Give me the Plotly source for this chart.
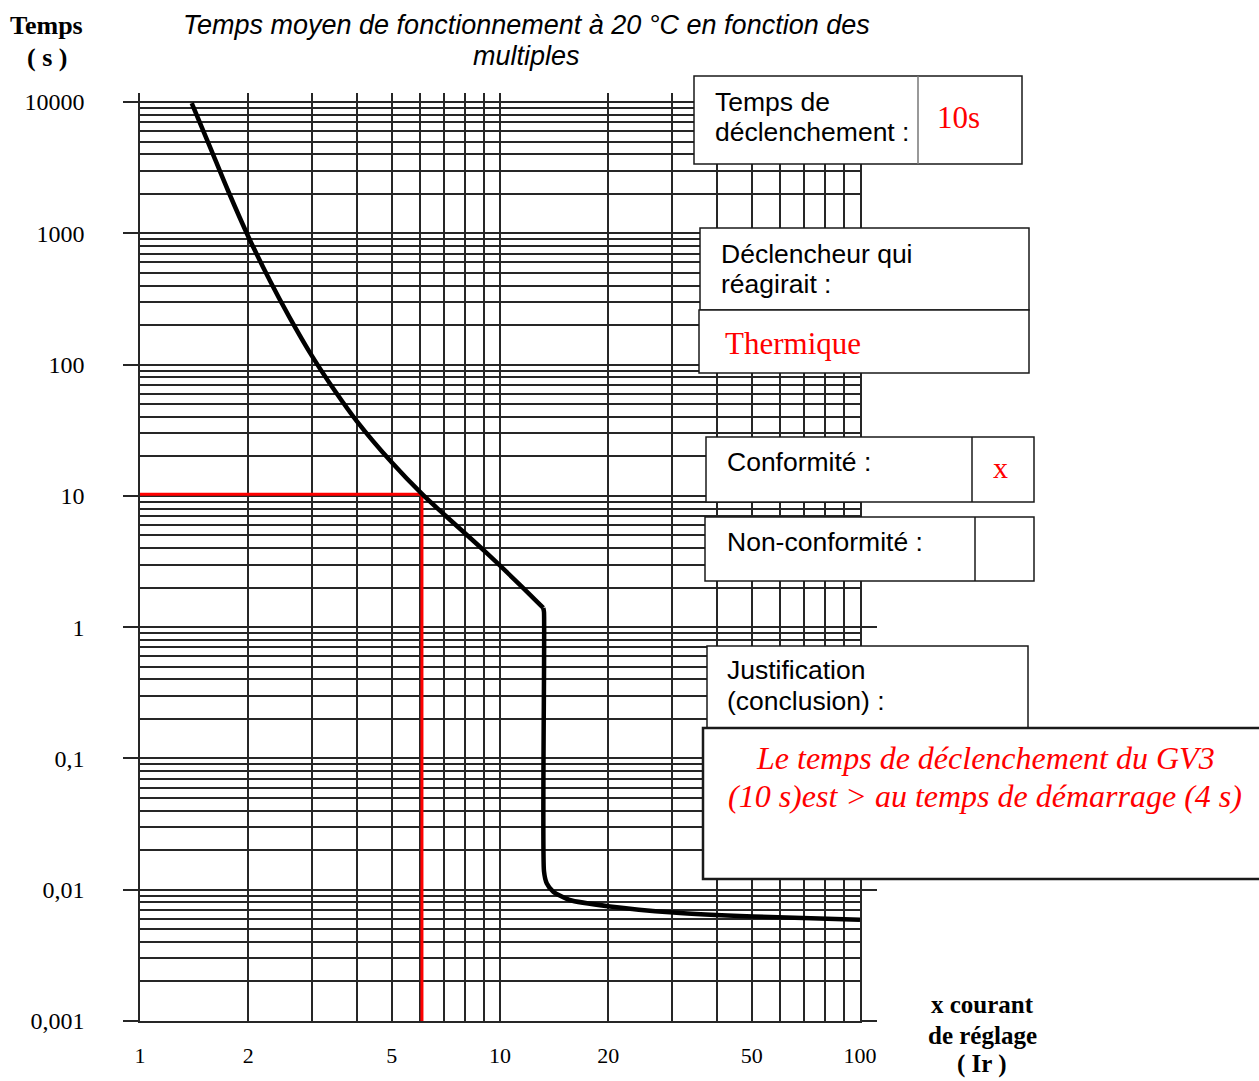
import plotly.graph_objects as go

# ---------------- data ----------------
x_tick_vals = [1, 2, 5, 10, 20, 50, 100]
x_tick_text = ["1", "2", "5", "10", "20", "50", "100"]
y_tick_vals = [0.001, 0.01, 0.1, 1, 10, 100, 1000, 10000]
y_tick_text = ["0,001", "0,01", "0,1", "1", "10", "100", "1000", "10000"]

# trip curve (multiple of Ir, time in s): thermal part, magnetic part
x_thermal = [1.392, 1.557, 1.759, 2.0, 2.3, 2.6, 3.0, 3.5, 4.0, 5.0, 6.1,
             7.11, 9.19, 11.36, 13.19]
y_thermal = [9800, 4700, 2090, 942, 431, 230, 117, 61.5, 37.1, 18.0, 10.2,
             6.93, 3.66, 2.10, 1.40]
x_magnetic = [13.19, 13.25, 13.25, 13.48, 14.06, 15.6, 20.2, 30.3, 50.5, 100]
y_magnetic = [1.40, 1.3, 0.0138, 0.0112, 0.00966, 0.00835, 0.00746, 0.00671, 0.00625, 0.0059]

# reading lines (red)
x_red = [1, 6.07, 6.07]
y_red = [10.3, 10.3, 0.001]

title_lines = ["Temps moyen de fonctionnement à 20 °C en fonction des", "multiples"]
answer_time = "10s"
answer_trip = "Thermique"
answer_conf = "x"
conclusion_lines = ["Le temps de déclenchement du GV3",
                    "(10 s)est > au temps de démarrage (4 s)"]

# ---------------- layout helpers (pixel -> paper) ----------------
W, H = 1259, 1081
L, R_EDGE = 140, 860
TOP, BOT = 93, 1021


def px(x):
    return (x - L) / (R_EDGE - L)


def py(y):
    return (BOT - y) / (BOT - TOP)


SANS = "Liberation Sans, Arial, sans-serif"
SERIF = "Liberation Serif, Times New Roman, serif"
GRID = "#262626"

fig = go.Figure()
fig.add_trace(go.Scatter(x=x_red, y=y_red, mode="lines",
                         line=dict(color="#ff0000", width=3), hoverinfo="skip"))
fig.add_trace(go.Scatter(x=x_thermal, y=y_thermal, mode="lines",
                         line=dict(color="black", width=4.5, shape="spline", smoothing=1),
                         hoverinfo="skip"))
fig.add_trace(go.Scatter(x=x_magnetic, y=y_magnetic, mode="lines",
                         line=dict(color="black", width=4.5, shape="spline", smoothing=0.6),
                         hoverinfo="skip"))

dec = 131.29
fig.update_layout(
    width=W, height=H,
    margin=dict(l=L, r=W - R_EDGE, t=TOP, b=H - BOT, pad=0),
    paper_bgcolor="white", plot_bgcolor="white",
    showlegend=False,
    xaxis=dict(type="log", range=[0, 2], tickvals=x_tick_vals, ticktext=x_tick_text,
               showgrid=True, gridcolor=GRID, gridwidth=1.5,
               minor=dict(dtick="D1", showgrid=True, gridcolor=GRID, gridwidth=1.5, ticks=""),
               showline=True, linecolor=GRID, linewidth=1.5, mirror=False,
               ticks="", ticklabelstandoff=14,
               tickfont=dict(family=SERIF, size=22, color="black"), zeroline=False),
    yaxis=dict(type="log", range=[-3, 4 + 9 / dec], tickvals=y_tick_vals, ticktext=y_tick_text,
               showgrid=True, gridcolor=GRID, gridwidth=1.5,
               minor=dict(dtick="D1", showgrid=True, gridcolor=GRID, gridwidth=1.5, ticks=""),
               showline=True, linecolor=GRID, linewidth=1.5, mirror="ticks",
               ticks="outside", ticklen=15, tickwidth=1.5, tickcolor=GRID,
               ticklabelstandoff=34,
               tickfont=dict(family=SERIF, size=24, color="black"), zeroline=False),
)

shapes = []


def box(x0, y0, x1, y1, w=1.5):
    shapes.append(dict(type="rect", xref="paper", yref="paper",
                       x0=px(x0), x1=px(x1), y0=py(y1), y1=py(y0),
                       line=dict(color="#1a1a1a", width=w), fillcolor="white", layer="above"))


def vline(x, y0, y1, color="#1a1a1a"):
    shapes.append(dict(type="line", xref="paper", yref="paper",
                       x0=px(x), x1=px(x), y0=py(y1), y1=py(y0),
                       line=dict(color=color, width=1.5), layer="above"))


box(694, 76, 1022, 164)
vline(918, 76, 164, "#777777")
box(700, 228, 1029, 310)
box(699, 310, 1029, 373)
box(706, 437, 1034, 502)
vline(972, 437, 502)
box(705, 517, 1034, 581)
vline(975, 517, 581)
box(707, 646, 1028, 745)
box(703, 728, 1275, 879, w=2.5)
fig.update_layout(shapes=shapes)

ann = []


def text(t, x, y, size, family=SANS, color="black", xanchor="left"):
    ann.append(dict(text=t, xref="paper", yref="paper", x=px(x), y=py(y),
                    xanchor=xanchor, yanchor="middle", showarrow=False,
                    font=dict(family=family, size=size, color=color)))


# title
text("<i>" + title_lines[0] + "</i>", 526, 25, 27, xanchor="center")
text("<i>" + title_lines[1] + "</i>", 526, 56, 27, xanchor="center")
# y axis title
text("<b>Temps</b>", 47, 25, 26, SERIF, xanchor="center")
text("<b>( s )</b>", 47, 57, 26, SERIF, xanchor="center")
# x axis title
text("<b>x courant</b>", 982, 1004, 25, SERIF, xanchor="center")
text("<b>de réglage</b>", 982, 1035, 25, SERIF, xanchor="center")
text("<b>( Ir )</b>", 982, 1064, 25, SERIF, xanchor="center")
# boxes
text("Temps de", 713, 102, 26.5)
text("déclenchement :", 713, 132, 26.5)
text(answer_time, 958, 117, 31, SERIF, "#ff0000", "center")
text("Déclencheur qui", 719, 254, 26.5)
text("réagirait :", 719, 284, 26.5)
text(answer_trip, 723, 343, 31, SERIF, "#ff0000")
text("Conformité :", 725, 462, 26.5)
text(answer_conf, 1000, 467, 30, SERIF, "#ff0000", "center")
text("Non-conformité :", 725, 542, 26.5)
text("Justification", 725, 670, 26.5)
text("(conclusion) :", 725, 701, 26.5)
text("<i>" + conclusion_lines[0] + "</i>", 985, 758, 32, SERIF, "#ff0000", "center")
text("<i>" + conclusion_lines[1] + "</i>", 985, 796, 32, SERIF, "#ff0000", "center")
fig.update_layout(annotations=ann)

fig.write_html("out.html")
